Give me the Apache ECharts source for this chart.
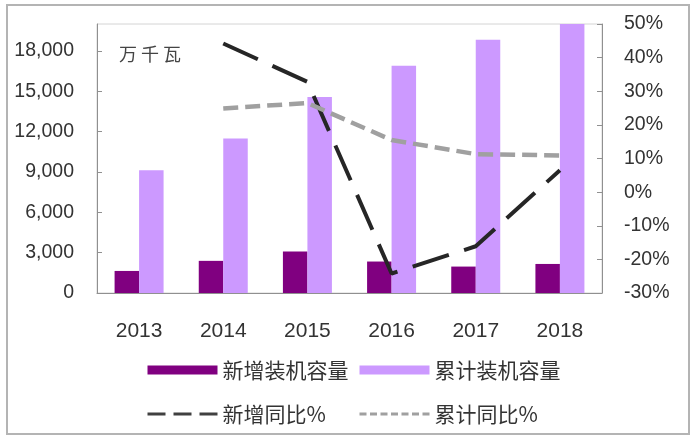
<!DOCTYPE html>
<html>
<head>
<meta charset="utf-8">
<script src="https://cdn.jsdelivr.net/npm/echarts@6/dist/echarts.min.js"></script>
<style>
  html, body { margin: 0; padding: 0; background: #fff; }
  #main { width: 699px; height: 443px; }
</style>
</head>
<body>
<div id="main"></div>
<script>
// 年份
var years = ['2013', '2014', '2015', '2016', '2017', '2018'];
// 新增装机容量（万千瓦）
var newCap = [1640, 2390, 3080, 2340, 1965, 2160];
// 累计装机容量（万千瓦）
var totalCap = [9130, 11490, 14570, 16890, 18830, 20900];
// 新增同比 %
var newYoy = [null, 44.2, 32.8, -24.2, -16.1, 6.5];
// 累计同比 %
var totalYoy = [null, 24.9, 26.5, 15.5, 11.3, 10.9];

var cjk = '"Noto Sans CJK SC", sans-serif';
var latin = '"Liberation Sans", Arial, sans-serif';

function withComma(v) {
    return String(v).replace(/\B(?=(\d{3})+(?!\d))/g, ',');
}

var myChart = echarts.init(document.getElementById('main'));

var option = {
    backgroundColor: '#fff',
    animation: false,
    grid: {
        left: 97, right: 97, top: 24, bottom: 150,
        show: true, borderColor: '#d4d4d4', borderWidth: 1
    },
    graphic: [
        {
            type: 'rect',
            shape: { x: 7, y: 5, width: 682, height: 429 },
            style: { fill: 'none', stroke: '#b4b4b4', lineWidth: 2 }
        },
        {
            type: 'text',
            left: 119, top: 45,
            style: { text: '万 千 瓦', font: '18px ' + cjk, fill: '#444' }
        }
    ],
    legend: [
        {
            orient: 'vertical',
            left: 141, top: 354,
            itemWidth: 70, itemHeight: 9, itemGap: 22,
            textStyle: { fontFamily: cjk, fontSize: 21, color: '#333', lineHeight: 22 },
            data: [
                { name: '新增装机容量', icon: 'rect' },
                {
                    name: '新增同比%',
                    itemStyle: { opacity: 0 },
                    lineStyle: { type: [18, 8], width: 3, color: '#404040' }
                }
            ]
        },
        {
            orient: 'vertical',
            left: 353, top: 354,
            itemWidth: 70, itemHeight: 9, itemGap: 22,
            textStyle: { fontFamily: cjk, fontSize: 21, color: '#333', lineHeight: 22 },
            data: [
                { name: '累计装机容量', icon: 'rect' },
                {
                    name: '累计同比%',
                    itemStyle: { opacity: 0 },
                    lineStyle: { type: [7, 3.5], width: 3, color: '#a0a0a0' }
                }
            ]
        }
    ],
    xAxis: {
        type: 'category',
        data: years,
        axisLine: { lineStyle: { color: '#909090', width: 1 } },
        axisTick: { inside: true, length: 6, lineStyle: { color: '#909090' } },
        axisLabel: { fontFamily: latin, fontSize: 21, color: '#333', margin: 28 }
    },
    yAxis: [
        {
            type: 'value',
            min: 0, max: 20000, interval: 3000,
            splitLine: { show: false },
            axisLine: { show: true, lineStyle: { color: '#909090' } },
            axisTick: { show: true, inside: true, length: 5, lineStyle: { color: '#909090' } },
            axisLabel: {
                fontFamily: latin, fontSize: 19.5, color: '#333', margin: 23,
                showMaxLabel: false,
                formatter: withComma
            }
        },
        {
            type: 'value',
            min: -30, max: 50, interval: 10,
            splitLine: { show: false },
            axisLine: { show: true, lineStyle: { color: '#909090' } },
            axisTick: { show: true, inside: true, length: 5, lineStyle: { color: '#909090' } },
            axisLabel: {
                fontFamily: latin, fontSize: 19.5, color: '#333', margin: 22,
                formatter: '{value}%'
            }
        }
    ],
    series: [
        {
            name: '新增装机容量',
            type: 'bar',
            data: newCap,
            barWidth: 24.5,
            barGap: '0%',
            itemStyle: { color: '#800080' }
        },
        {
            name: '累计装机容量',
            type: 'bar',
            data: totalCap,
            barWidth: 24.5,
            barGap: '0%',
            clip: true,
            itemStyle: { color: '#cc99ff' }
        },
        {
            name: '新增同比%',
            type: 'line',
            yAxisIndex: 1,
            data: newYoy,
            symbol: 'none',
            lineStyle: { color: '#262626', width: 4, type: [38, 16] },
            itemStyle: { color: '#262626' }
        },
        {
            name: '累计同比%',
            type: 'line',
            yAxisIndex: 1,
            data: totalYoy,
            symbol: 'none',
            lineStyle: { color: '#a0a0a0', width: 4.5, type: [15, 7] },
            itemStyle: { color: '#a0a0a0' }
        }
    ]
};
myChart.setOption(option);
</script>
</body>
</html>
